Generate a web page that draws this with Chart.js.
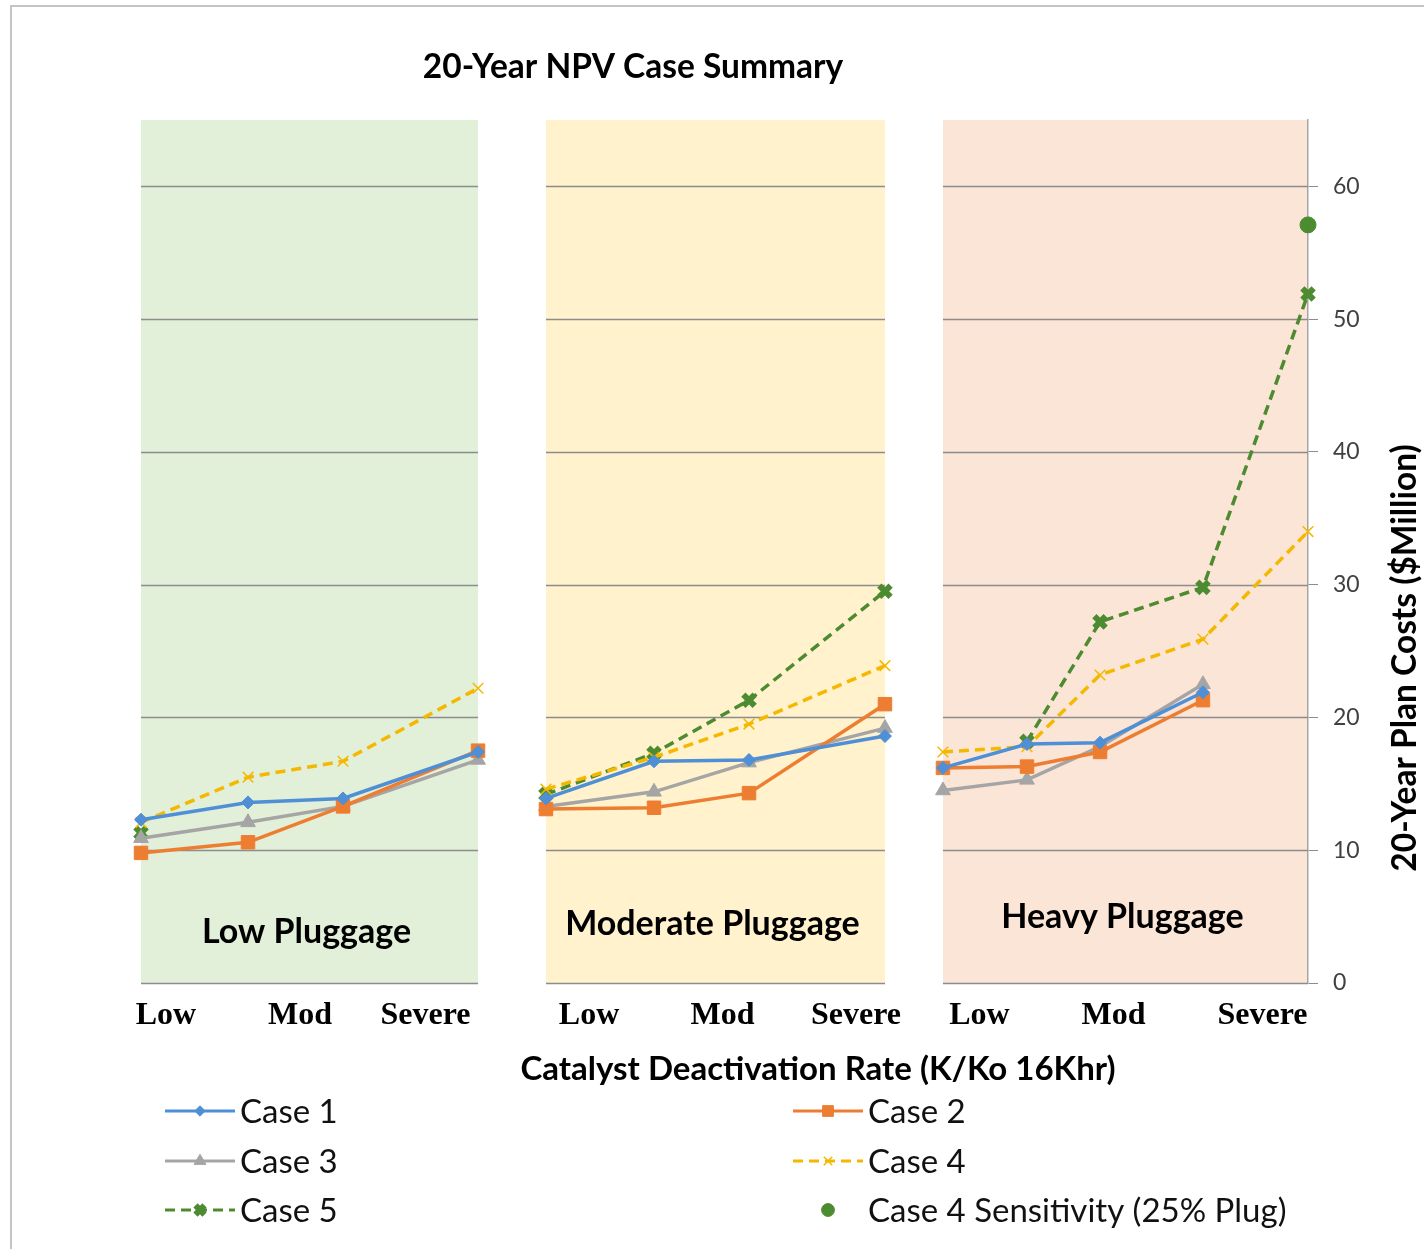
<!DOCTYPE html>
<html>
<head>
<meta charset="utf-8">
<title>20-Year NPV Case Summary</title>
<script src="https://cdn.jsdelivr.net/npm/chart.js@4.4.1/dist/chart.umd.min.js"></script>
<style>
  html, body { margin: 0; padding: 0; background: #fff; overflow: hidden; }
  #wrap { position: relative; width: 1424px; height: 1249px; }
</style>
</head>
<body>
<div id="wrap"><canvas id="chart"></canvas></div>
<script>
'use strict';
// ── Data ──────────────────────────────────────────────────────────────────
const panelNames = ['Low Pluggage', 'Moderate Pluggage', 'Heavy Pluggage'];
// x position of each point along the deactivation axis (0-100 across the plot)
const panelX = [
    [0, 9.17, 17.31, 28.88],
    [34.70, 43.96, 52.10, 63.75],
    [68.72, 75.92, 82.18, 91.00, 100],
];
const panelBands = [[0, 28.88], [34.70, 63.75], [68.72, 100]];

const case1 = [[12.3, 13.6, 13.9, 17.4], [13.9, 16.7, 16.8, 18.6], [16.2, 18.0, 18.1, 21.9, null]];
const case2 = [[9.8, 10.6, 13.3, 17.5],  [13.1, 13.2, 14.3, 21.0], [16.2, 16.3, 17.4, 21.3, null]];
const case3 = [[10.9, 12.1, 13.3, 16.8], [13.3, 14.4, 16.6, 19.2], [14.5, 15.3, 17.8, 22.5, null]];
const case4 = [[12.1, 15.5, 16.7, 22.2], [14.6, 17.0, 19.5, 23.9], [17.4, 17.8, 23.2, 25.9, 34.0]];
const case5 = [[11.3, null, null, null], [14.2, 17.3, 21.3, 29.5], [null, 18.2, 27.2, 29.8, 51.9]];
const case4Sens = [[null, null, null, null], [null, null, null, null], [null, null, null, null, 57.1]];

const xTickLabels = ['Low', 'Mod', 'Severe', 'Low', 'Mod', 'Severe', 'Low', 'Mod', 'Severe'];
const xTickPos    = [2.14, 13.62, 24.38, 38.39, 49.83, 61.27, 71.85, 83.33, 96.10];
const yTicks      = [0, 10, 20, 30, 40, 50, 60];

// ── Styles ────────────────────────────────────────────────────────────────
const BLUE   = '#4f8fd6';
const ORANGE = '#ed7d31';
const GRAY   = '#a5a5a5';
const YELLOW = '#f5b800';
const GREEN  = '#4d8b31';
const BANDS  = ['#e2efd9', '#fff2cc', '#fbe5d6'];
const GRID   = '#8c8c8c';
const SANS   = "Lato, 'Open Sans', sans-serif";

// flatten panels into points, with a null break between panels
function toPoints(rows) {
    const pts = [];
    rows.forEach((row, p) => {
        if (p > 0) pts.push({ x: panelX[p][0] - 1, y: null });
        row.forEach((v, i) => pts.push({ x: panelX[p][i], y: v }));
    });
    return pts;
}

function series(label, rows, color, style, radius, extra) {
    return Object.assign({
        label, data: toPoints(rows),
        borderColor: color, backgroundColor: color,
        borderWidth: 3.5, pointStyle: style, pointRadius: radius,
        pointBorderWidth: 1, pointHoverRadius: radius,
        spanGaps: false, clip: false, tension: 0,
    }, extra || {});
}

const datasets = [
    series('Case 1', case1, BLUE,   'rectRot',  6.5),
    series('Case 2', case2, ORANGE, 'rect',     9.5),
    series('Case 3', case3, GRAY,   'triangle', 8.5),
    series('Case 4', case4, YELLOW, 'crossRot', 7.5, { borderDash: [10, 6], pointBorderWidth: 1.5 }),
    series('Case 5', case5, GREEN,  'crossRot', 8,   { borderDash: [10, 6], pointBorderWidth: 6 }),
    series('Case 4 Sensitivity (25% Plug)', case4Sens, GREEN, 'circle', 8, { showLine: false }),
];

// ── Layout for hand-drawn pieces ──────────────────────────────────────────
const panelLabelLift = [51, 59, 66];
const legendCols = [165, 793];
const legendRows = [1111, 1161, 1210];
const legendOrder = [[0, 1], [2, 3], [4, 5]];

// ── Plugin: bands, gridlines, labels, legend ─────────────────────────────
const decor = {
    id: 'decor',
    beforeDraw(chart) {
        const { ctx, chartArea: a, scales: { x } } = chart;
        ctx.save();
        ctx.fillStyle = '#fff';
        ctx.fillRect(0, 0, chart.width, chart.height);
        panelBands.forEach((b, i) => {
            const x0 = x.getPixelForValue(b[0]), x1 = x.getPixelForValue(b[1]);
            ctx.fillStyle = BANDS[i];
            ctx.fillRect(x0, a.top, x1 - x0, a.bottom - a.top);
        });
        // frame around the picture
        ctx.strokeStyle = '#c4c4c4';
        ctx.lineWidth = 2;
        ctx.strokeRect(11, 6, 1440, 1260);
        ctx.restore();
    },
    beforeDatasetsDraw(chart) {
        const { ctx, chartArea: a, scales: { x, y } } = chart;
        ctx.save();
        ctx.strokeStyle = GRID;
        ctx.lineWidth = 1.5;
        panelBands.forEach(b => {
            const x0 = x.getPixelForValue(b[0]), x1 = x.getPixelForValue(b[1]);
            yTicks.forEach(t => {
                const py = Math.round(y.getPixelForValue(t)) + 0.5;
                ctx.beginPath();
                ctx.moveTo(x0, py);
                ctx.lineTo(x1, py);
                ctx.stroke();
            });
        });
        ctx.fillStyle = '#000';
        ctx.font = `bold 34px ${SANS}`;
        ctx.textAlign = 'center';
        ctx.textBaseline = 'middle';
        panelBands.forEach((b, i) => {
            const cx = (x.getPixelForValue(b[0]) + x.getPixelForValue(b[1])) / 2;
            ctx.fillText(panelNames[i], cx - 3, a.bottom - panelLabelLift[i]);
        });
        ctx.restore();
    },
    afterDraw(chart) {
        const { ctx } = chart;
        const H = Chart.helpers;
        ctx.save();
        ctx.fillStyle = '#000';
        ctx.textBaseline = 'middle';
        ctx.textAlign = 'center';
        ctx.font = `bold 33.5px ${SANS}`;
        ctx.fillText('20-Year NPV Case Summary', 633, 67);
        ctx.font = `bold 33px ${SANS}`;
        ctx.fillText('Catalyst Deactivation Rate (K/Ko 16Khr)', 818, 1069);
        ctx.save();
        ctx.translate(1405, 658);
        ctx.rotate(-Math.PI / 2);
        ctx.font = `bold 33.5px ${SANS}`;
        ctx.fillText('20-Year Plan Costs ($Million)', 0, 0);
        ctx.restore();

        // legend
        ctx.textAlign = 'left';
        ctx.font = `33px ${SANS}`;
        legendOrder.forEach((row, r) => {
            row.forEach((di, c) => {
                const ds = chart.data.datasets[di];
                const x0 = legendCols[c], cy = legendRows[r];
                if (ds.showLine !== false) {
                    ctx.save();
                    ctx.strokeStyle = ds.borderColor;
                    ctx.lineWidth = 3;
                    ctx.setLineDash(ds.borderDash || []);
                    ctx.beginPath();
                    ctx.moveTo(x0, cy);
                    ctx.lineTo(x0 + 70, cy);
                    ctx.stroke();
                    ctx.restore();
                }
                ctx.save();
                ctx.strokeStyle = ds.borderColor;
                ctx.fillStyle = ds.backgroundColor;
                ctx.lineWidth = ds.pointBorderWidth;
                H.drawPoint(ctx, { pointStyle: ds.pointStyle, radius: ds.pointRadius * 0.8,
                                   borderWidth: ds.pointBorderWidth, rotation: 0 }, x0 + 35, cy);
                ctx.restore();
                ctx.fillStyle = '#111';
                ctx.fillText(ds.label, x0 + 75, cy + 1);
            });
        });
        ctx.restore();
    }
};

// ── Chart ─────────────────────────────────────────────────────────────────
Chart.defaults.font.family = SANS;
Chart.defaults.color = '#404040';

new Chart(document.getElementById('chart'), {
    type: 'line',
    data: { datasets },
    options: {
        animation: false,
        responsive: true,
        maintainAspectRatio: false,
        layout: { padding: { left: 141, top: 120, right: 0, bottom: 0 } },
        plugins: { legend: { display: false }, title: { display: false }, tooltip: { enabled: false } },
        scales: {
            x: {
                type: 'linear', min: 0, max: 100,
                grid: { display: false },
                border: { display: false },
                afterBuildTicks: s => { s.ticks = xTickPos.map(v => ({ value: v })); },
                afterFit: s => { s.height = 266; },
                ticks: {
                    autoSkip: false, maxRotation: 0, padding: 6,
                    color: '#000',
                    font: { family: "'Liberation Serif', 'Times New Roman', serif", size: 32, weight: 'bold' },
                    callback: (v, i) => xTickLabels[i],
                },
            },
            y: {
                position: 'right', min: 0, max: 65,
                grid: { drawOnChartArea: false, drawTicks: true, tickLength: 10, color: GRID },
                border: { display: true, color: '#a6a6a6', width: 1.5 },
                afterBuildTicks: s => { s.ticks = yTicks.map(v => ({ value: v })); },
                afterFit: s => { s.width = 116; },
                ticks: { padding: 15, font: { size: 23 }, color: '#404040' },
            },
        },
    },
    plugins: [decor],
});
</script>
</body>
</html>
